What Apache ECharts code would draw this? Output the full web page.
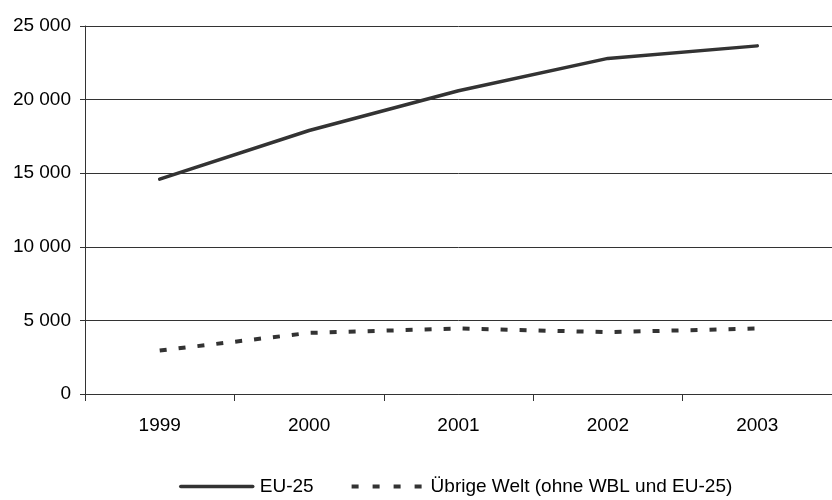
<!DOCTYPE html>
<html>
<head>
<meta charset="utf-8">
<script src="https://cdn.jsdelivr.net/npm/echarts@6/dist/echarts.min.js"></script>
<style>
html,body{margin:0;padding:0;background:#fff;}
#chart{width:832px;height:500px;}
</style>
</head>
<body>
<div id="chart"></div>
<script>
const categories = ['1999', '2000', '2001', '2002', '2003'];
const eu25 = [14600, 17900, 20600, 22800, 23650];
const restWorld = [2950, 4150, 4450, 4200, 4450];
const seriesNames = ['EU-25', 'Übrige Welt (ohne WBL und EU-25)'];
const yTicks = { min: 0, max: 25000, interval: 5000 };

const fmt = v => String(v).replace(/\B(?=(\d{3})+(?!\d))/g, ' ');
const font = '"Liberation Sans", Arial, sans-serif';

const chart = echarts.init(document.getElementById('chart'), null, { renderer: 'canvas' });
chart.setOption({
  animation: false,
  backgroundColor: '#fff',
  textStyle: { fontFamily: font },
  grid: { left: 85, top: 26, width: 755, height: 368, containLabel: false },
  legend: {
    left: 174, top: 472,
    itemWidth: 72, itemHeight: 14, itemGap: 36,
    itemStyle: { opacity: 0, color: 'transparent', borderWidth: 0 },
    textStyle: { fontFamily: font, fontSize: 19, color: '#000', padding: [0, 0, 0, 2] },
    data: [
      { name: seriesNames[0], lineStyle: { width: 3.5, color: '#333', type: 'solid' } },
      { name: seriesNames[1], lineStyle: { width: 4, color: '#333', type: [7, 14] } }
    ]
  },
  xAxis: {
    type: 'category',
    data: categories,
    boundaryGap: true,
    axisLine: { lineStyle: { color: '#333', width: 1 } },
    axisTick: { show: true, length: 7, lineStyle: { color: '#333' } },
    axisLabel: { color: '#000', fontSize: 19, fontFamily: font, margin: 22 },
    splitLine: { show: false }
  },
  yAxis: {
    type: 'value',
    min: yTicks.min, max: yTicks.max, interval: yTicks.interval,
    axisLine: { show: true, lineStyle: { color: '#333', width: 1 } },
    axisTick: { show: true, length: 5, lineStyle: { color: '#333' } },
    axisLabel: { color: '#000', fontSize: 19, fontFamily: font, margin: 14, formatter: fmt },
    splitLine: { show: true, lineStyle: { color: '#333', width: 1 } }
  },
  series: [
    {
      name: seriesNames[0], type: 'line', data: eu25,
      symbol: 'none', smooth: false,
      lineStyle: { color: '#333', width: 3.5, cap: 'round' },
      itemStyle: { color: '#333' }
    },
    {
      name: seriesNames[1], type: 'line', data: restWorld,
      symbol: 'none', smooth: false,
      lineStyle: { color: '#333', width: 4, type: [7, 12], cap: 'butt' },
      itemStyle: { color: '#333' }
    }
  ]
});
</script>
</body>
</html>
